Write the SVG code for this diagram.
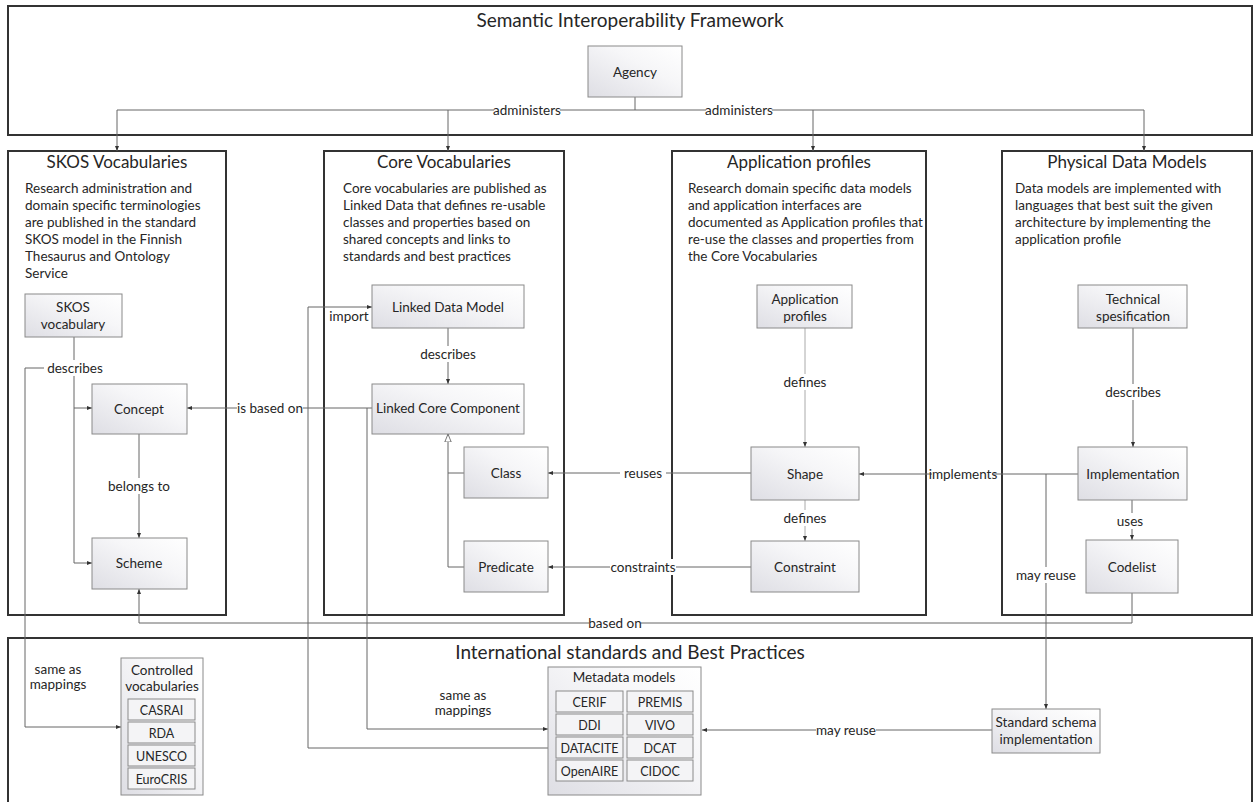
<svg xmlns="http://www.w3.org/2000/svg" width="1260" height="802" viewBox="0 0 1260 802">
<defs>
<linearGradient id="g" x1="0" y1="1" x2="1" y2="0">
<stop offset="0" stop-color="#dedee4"/>
<stop offset="0.6" stop-color="#f6f6f8"/>
<stop offset="1" stop-color="#ffffff"/>
</linearGradient>
<marker id="a" viewBox="0 0 10 10" refX="10" refY="5" markerWidth="5" markerHeight="5" orient="auto" markerUnits="userSpaceOnUse">
<path d="M0,1 L10,5 L0,9 z" fill="#333"/>
</marker>
<marker id="h" viewBox="0 0 10 10" refX="10" refY="5" markerWidth="8" markerHeight="8" orient="auto" markerUnits="userSpaceOnUse">
<path d="M0,1 L10,5 L0,9 z" fill="#fff" stroke="#555" stroke-width="1"/>
</marker>
<style>
text{font-family:Lato,"Liberation Sans",sans-serif;fill:#262626}
.frame{fill:#fff;stroke:#333;stroke-width:2}
.big{font-size:19px;text-anchor:middle}
.ttl{font-size:17px;text-anchor:middle}
.desc{font-size:13.5px}
.node{fill:url(#g);stroke:#8a8a8a;stroke-width:1}
.sub{fill:#f4f4f6;stroke:#8a8a8a;stroke-width:1}
.nt{font-size:13.5px;text-anchor:middle;dominant-baseline:central}
.st{font-size:12.5px;text-anchor:middle;dominant-baseline:central}
.lbl{font-size:13.5px;text-anchor:middle;dominant-baseline:central}
.c{fill:none;stroke:#666;stroke-width:1}
.ca{fill:none;stroke:#666;stroke-width:1;marker-end:url(#a)}
.bg{fill:#fff}
</style>
</defs>

<g id="frame-semantic">
<rect class="frame" x="8" y="6" width="1244" height="129"/>
<text class="big" x="630" y="27">Semantic Interoperability Framework</text>
</g>
<g id="frame-skos">
<rect class="frame" x="8" y="151" width="218" height="464"/>
<text class="ttl" x="117" y="168">SKOS Vocabularies</text>
<text class="desc" x="25" y="193">Research administration and</text>
<text class="desc" x="25" y="210">domain specific terminologies</text>
<text class="desc" x="25" y="227">are published in the standard</text>
<text class="desc" x="25" y="244">SKOS model in the Finnish</text>
<text class="desc" x="25" y="261">Thesaurus and Ontology</text>
<text class="desc" x="25" y="278">Service</text>
</g>
<g id="frame-core">
<rect class="frame" x="324" y="151" width="240" height="464"/>
<text class="ttl" x="444" y="168">Core Vocabularies</text>
<text class="desc" x="343" y="193">Core vocabularies are published as</text>
<text class="desc" x="343" y="210">Linked Data that defines re-usable</text>
<text class="desc" x="343" y="227">classes and properties based on</text>
<text class="desc" x="343" y="244">shared concepts and links to</text>
<text class="desc" x="343" y="261">standards and best practices</text>
</g>
<g id="frame-app">
<rect class="frame" x="672" y="151" width="254" height="464"/>
<text class="ttl" x="799" y="168">Application profiles</text>
<text class="desc" x="688" y="193">Research domain specific data models</text>
<text class="desc" x="688" y="210">and application interfaces are</text>
<text class="desc" x="688" y="227">documented as Application profiles that</text>
<text class="desc" x="688" y="244">re-use the classes and properties from</text>
<text class="desc" x="688" y="261">the Core Vocabularies</text>
</g>
<g id="frame-physical">
<rect class="frame" x="1002" y="151" width="250" height="464"/>
<text class="ttl" x="1127" y="168">Physical Data Models</text>
<text class="desc" x="1015" y="193">Data models are implemented with</text>
<text class="desc" x="1015" y="210">languages that best suit the given</text>
<text class="desc" x="1015" y="227">architecture by implementing the</text>
<text class="desc" x="1015" y="244">application profile</text>
</g>
<g id="frame-international">
<rect class="frame" x="8" y="638" width="1244" height="180"/>
<text class="big" x="630" y="659">International standards and Best Practices</text>
</g>

<g id="connectors">
<path class="c" d="M635,97 V110 M117,110 H1144"/>
<path class="ca" d="M117,110 V151"/>
<path class="ca" d="M448,110 V151"/>
<path class="ca" d="M813,110 V151"/>
<path class="ca" d="M1144,110 V151"/>
<rect class="bg" x="494" y="103" width="66" height="14"/>
<text class="lbl" x="527" y="110">administers</text>
<rect class="bg" x="706" y="103" width="66" height="14"/>
<text class="lbl" x="739" y="110">administers</text>

<path class="ca" d="M74,337 V563 H92"/>
<path class="ca" d="M74,408 H92"/>
<path class="ca" d="M74,368 H25 V727 H121"/>
<rect class="bg" x="44" y="360" width="60" height="16"/>
<text class="lbl" x="75" y="368">describes</text>
<text class="lbl" x="58" y="669">same as</text>
<text class="lbl" x="58" y="684">mappings</text>

<path class="ca" d="M139,434 V538"/>
<rect class="bg" x="106" y="478" width="66" height="16"/>
<text class="lbl" x="139" y="486">belongs to</text>

<path class="ca" d="M372,408 H187"/>
<rect class="bg" x="237" y="400" width="66" height="16"/>
<text class="lbl" x="270" y="408">is based on</text>

<path class="ca" d="M367,408 V729 H548"/>
<text class="lbl" x="463" y="695">same as</text>
<text class="lbl" x="463" y="710">mappings</text>

<path class="ca" d="M548,748 H308 V307 H372"/>
<text class="lbl" x="349" y="316">import</text>

<path class="ca" d="M448,328 V384"/>
<rect class="bg" x="418" y="346" width="60" height="16"/>
<text class="lbl" x="448" y="354">describes</text>

<path class="c" d="M464,473 H448 M464,567 H448"/>
<path class="c" d="M448,567 V434" marker-end="url(#h)"/>

<path class="ca" d="M751,473 H548"/>
<rect class="bg" x="620" y="465" width="46" height="16"/>
<text class="lbl" x="643" y="473">reuses</text>
<path class="ca" d="M751,567 H548"/>
<rect class="bg" x="610" y="559" width="66" height="16"/>
<text class="lbl" x="643" y="567">constraints</text>

<path class="ca" d="M805,328 V447" style="stroke:#aaa"/>
<rect class="bg" x="782" y="374" width="46" height="16"/>
<text class="lbl" x="805" y="382">defines</text>
<path class="ca" d="M805,500 V541" style="stroke:#aaa"/>
<rect class="bg" x="782" y="510" width="46" height="16"/>
<text class="lbl" x="805" y="518">defines</text>

<path class="ca" d="M1133,328 V447"/>
<rect class="bg" x="1103" y="384" width="60" height="16"/>
<text class="lbl" x="1133" y="392">describes</text>

<path class="ca" d="M1078,474 H859"/>
<rect class="bg" x="932" y="466" width="62" height="16"/>
<text class="lbl" x="963" y="474">implements</text>

<path class="ca" d="M1132,500 V540"/>
<rect class="bg" x="1114" y="513" width="32" height="16"/>
<text class="lbl" x="1130" y="521">uses</text>

<path class="ca" d="M1132,593 V623 H139 V589"/>
<rect class="bg" x="589" y="615" width="52" height="16"/>
<text class="lbl" x="615" y="623">based on</text>

<path class="ca" d="M1046,474 V709"/>
<rect class="bg" x="1016" y="567" width="60" height="16"/>
<text class="lbl" x="1046" y="575">may reuse</text>

<path class="ca" d="M992,730 H702"/>
<rect class="bg" x="816" y="722" width="60" height="16"/>
<text class="lbl" x="846" y="730">may reuse</text>
</g>

<g id="agency">
<rect class="node" x="588" y="46" width="94" height="51"/>
<text class="nt" x="635" y="72">Agency</text>
</g>
<g id="skos-vocabulary">
<rect class="node" x="25" y="294" width="97" height="43"/>
<text class="nt" x="73" y="307">SKOS</text>
<text class="nt" x="73" y="324">vocabulary</text>
</g>
<g id="concept">
<rect class="node" x="92" y="384" width="95" height="50"/>
<text class="nt" x="139" y="409">Concept</text>
</g>
<g id="scheme">
<rect class="node" x="92" y="538" width="95" height="51"/>
<text class="nt" x="139" y="563">Scheme</text>
</g>
<g id="linked-data-model">
<rect class="node" x="372" y="285" width="152" height="43"/>
<text class="nt" x="448" y="307">Linked Data Model</text>
</g>
<g id="linked-core-component">
<rect class="node" x="372" y="384" width="152" height="50"/>
<text class="nt" x="448" y="408">Linked Core Component</text>
</g>
<g id="class">
<rect class="node" x="464" y="447" width="84" height="51"/>
<text class="nt" x="506" y="473">Class</text>
</g>
<g id="predicate">
<rect class="node" x="464" y="541" width="84" height="51"/>
<text class="nt" x="506" y="567">Predicate</text>
</g>
<g id="application-profiles">
<rect class="node" x="757" y="285" width="95" height="43"/>
<text class="nt" x="805" y="299">Application</text>
<text class="nt" x="805" y="316">profiles</text>
</g>
<g id="shape">
<rect class="node" x="751" y="447" width="108" height="53"/>
<text class="nt" x="805" y="474">Shape</text>
</g>
<g id="constraint">
<rect class="node" x="751" y="541" width="108" height="51"/>
<text class="nt" x="805" y="567">Constraint</text>
</g>
<g id="technical-spesification">
<rect class="node" x="1078" y="285" width="109" height="43"/>
<text class="nt" x="1133" y="299">Technical</text>
<text class="nt" x="1133" y="316">spesification</text>
</g>
<g id="implementation">
<rect class="node" x="1078" y="447" width="109" height="53"/>
<text class="nt" x="1133" y="474">Implementation</text>
</g>
<g id="codelist">
<rect class="node" x="1086" y="540" width="92" height="53"/>
<text class="nt" x="1132" y="567">Codelist</text>
</g>
<g id="controlled-vocabularies">
<rect class="node" x="121" y="658" width="82" height="137"/>
<text class="nt" x="162" y="670">Controlled</text>
<text class="nt" x="162" y="686">vocabularies</text>
<rect class="sub" x="128" y="699" width="67" height="21"/>
<text class="st" x="161.5" y="710">CASRAI</text>
<rect class="sub" x="128" y="722" width="67" height="21"/>
<text class="st" x="161.5" y="733">RDA</text>
<rect class="sub" x="128" y="745" width="67" height="21"/>
<text class="st" x="161.5" y="756">UNESCO</text>
<rect class="sub" x="128" y="768" width="67" height="21"/>
<text class="st" x="161.5" y="779">EuroCRIS</text>
</g>
<g id="metadata-models">
<rect class="node" x="548" y="667" width="153" height="128"/>
<text class="nt" x="624" y="677">Metadata models</text>
<rect class="sub" x="556" y="691" width="67" height="21"/>
<text class="st" x="589.5" y="702">CERIF</text>
<rect class="sub" x="627" y="691" width="66" height="21"/>
<text class="st" x="660" y="702">PREMIS</text>
<rect class="sub" x="556" y="714" width="67" height="21"/>
<text class="st" x="589.5" y="725">DDI</text>
<rect class="sub" x="627" y="714" width="66" height="21"/>
<text class="st" x="660" y="725">VIVO</text>
<rect class="sub" x="556" y="737" width="67" height="21"/>
<text class="st" x="589.5" y="748">DATACITE</text>
<rect class="sub" x="627" y="737" width="66" height="21"/>
<text class="st" x="660" y="748">DCAT</text>
<rect class="sub" x="556" y="760" width="67" height="21"/>
<text class="st" x="589.5" y="771">OpenAIRE</text>
<rect class="sub" x="627" y="760" width="66" height="21"/>
<text class="st" x="660" y="771">CIDOC</text>
</g>
<g id="standard-schema-implementation">
<rect class="node" x="992" y="709" width="108" height="44"/>
<text class="nt" x="1046" y="722">Standard schema</text>
<text class="nt" x="1046" y="739">implementation</text>
</g>
</svg>
